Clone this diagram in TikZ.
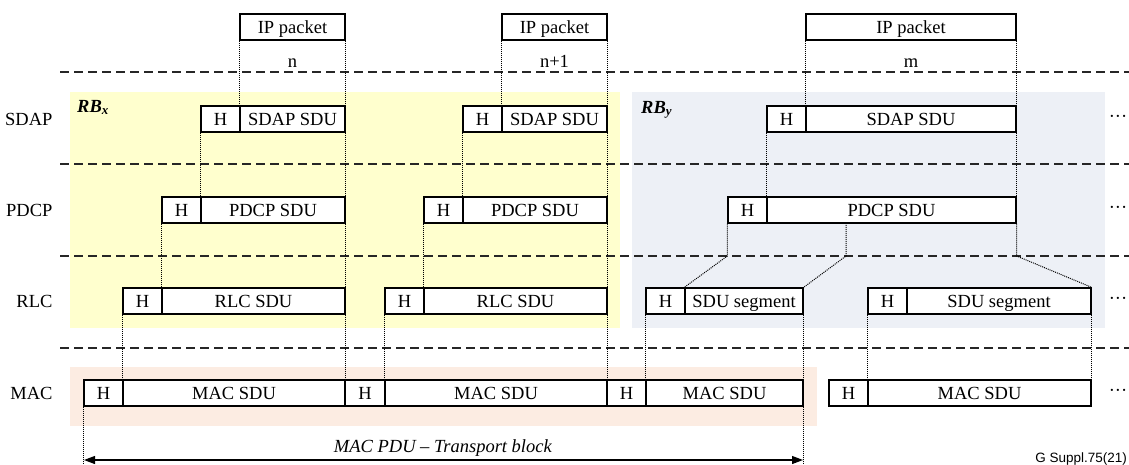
\documentclass[tikz,border=0pt]{standalone}
\usepackage{fontspec}
\setmainfont{Liberation Serif}
\newfontfamily\figsans{Liberation Sans}
\usetikzlibrary{arrows.meta}
\definecolor{rbxfill}{RGB}{255,255,206}
\definecolor{rbyfill}{RGB}{237,240,246}
\definecolor{macfill}{RGB}{252,236,226}
\begin{document}
\begin{tikzpicture}[x=1pt,y=-1pt,
  every node/.style={font=\fontsize{18.5}{21}\selectfont},
  cell/.style={draw, fill=white, line width=1.3pt, minimum height=26pt,
    inner sep=0pt, text height=12.5pt, text depth=0pt},
  link/.style={line width=1pt, dash pattern=on 1pt off 1pt},
  layersep/.style={line width=1.2pt, dash pattern=on 9pt off 5pt, black!85},
  layername/.style={anchor=east},
  more/.style={anchor=center},
  span/.style={line width=1.2pt, {Triangle[length=11pt,width=8pt]}-{Triangle[length=11pt,width=8pt]}}]
\useasboundingbox (0,0) rectangle (1129,464);

% radio bearer and MAC backgrounds
\fill[rbxfill] (70,92) rectangle (620,328);
\fill[rbyfill] (632,92) rectangle (1105,328);
\fill[macfill] (70,367) rectangle (817,426);

% layer separators
\coordinate (sepA) at (60,72);
\coordinate (sepB) at (60,164);
\coordinate (sepC) at (60,256);
\coordinate (sepD) at (60,348);
\foreach \s in {sepA,sepB,sepC,sepD}
  \draw[layersep] (\s) -- ++(1069,0);

% layer names
\node[layername] (lSDAP) at (56,119) {SDAP};
\node[layername] (lPDCP) at (56,210) {PDCP};
\node[layername] (lRLC)  at (56,301) {RLC};
\node[layername] (lMAC)  at (56,393) {MAC};

% bearer labels
\node[anchor=base west, inner sep=0pt] (rbx) at (77,112) {\textbf{\textit{RB\textsubscript{x}}}};
\node[anchor=base west, inner sep=0pt] (rby) at (641,113) {\textbf{\textit{RB\textsubscript{y}}}};

% IP packets
\node[cell, minimum width=105pt] (ipA) at (292.5,27) {IP packet};
\node[cell, minimum width=105pt] (ipB) at (554.5,27) {IP packet};
\node[cell, minimum width=210pt] (ipC) at (911,27) {IP packet};
\node[anchor=base, inner sep=0pt] (nA) at (292.5,67) {n};
\node[anchor=base, inner sep=0pt] (nB) at (554.5,67) {n+1};
\node[anchor=base, inner sep=0pt] (nC) at (911,67) {m};

% SDAP
\node[cell, minimum width=39pt]  (sdapHA) at (220.5,119) {H};
\node[cell, minimum width=105pt] (sdapA)  at (292.5,119) {SDAP SDU};
\node[cell, minimum width=39pt]  (sdapHB) at (482.5,119) {H};
\node[cell, minimum width=105pt] (sdapB)  at (554.5,119) {SDAP SDU};
\node[cell, minimum width=39pt]  (sdapHC) at (786.5,119) {H};
\node[cell, minimum width=210pt] (sdapC)  at (911,119) {SDAP SDU};

% PDCP
\node[cell, minimum width=39pt]  (pdcpHA) at (181.5,210) {H};
\node[cell, minimum width=144pt] (pdcpA)  at (273,210) {PDCP SDU};
\node[cell, minimum width=39pt]  (pdcpHB) at (443.5,210) {H};
\node[cell, minimum width=144pt] (pdcpB)  at (535,210) {PDCP SDU};
\node[cell, minimum width=39pt]  (pdcpHC) at (747.5,210) {H};
\node[cell, minimum width=249pt] (pdcpC)  at (891.5,210) {PDCP SDU};

% RLC
\node[cell, minimum width=39pt]  (rlcHA) at (142.5,301) {H};
\node[cell, minimum width=183pt] (rlcA)  at (253.5,301) {RLC SDU};
\node[cell, minimum width=39pt]  (rlcHB) at (404.5,301) {H};
\node[cell, minimum width=183pt] (rlcB)  at (515.5,301) {RLC SDU};
\node[cell, minimum width=39pt]  (segHA) at (665.5,301) {H};
\node[cell, minimum width=118pt] (segA)  at (744,301) {SDU segment};
\node[cell, minimum width=39pt]  (segHB) at (887.5,301) {H};
\node[cell, minimum width=184pt] (segB)  at (999,301) {SDU segment};

% MAC
\node[cell, minimum width=39pt]  (macHA) at (103.5,393) {H};
\node[cell, minimum width=222pt] (macA)  at (234,393) {MAC SDU};
\node[cell, minimum width=40pt]  (macHB) at (365,393) {H};
\node[cell, minimum width=222pt] (macB)  at (496,393) {MAC SDU};
\node[cell, minimum width=39pt]  (macHC) at (626.5,393) {H};
\node[cell, minimum width=157pt] (macC)  at (724.5,393) {MAC SDU};
\node[cell, minimum width=39pt]  (macHD) at (848.5,393) {H};
\node[cell, minimum width=223pt] (macD)  at (979.5,393) {MAC SDU};

% continuation marks
\foreach \y/\n in {119/a,210/b,301/c,393/d}
  \node[more] (more\n) at (1118,\y) {\textperiodcentered\textperiodcentered\textperiodcentered};

% IP packet -> SDAP SDU
\draw[link] (ipA.south west) -- (sdapA.north west);
\draw[link] (ipA.south east) -- (sdapA.north east);
\draw[link] (ipB.south west) -- (sdapB.north west);
\draw[link] (ipB.south east) -- (sdapB.north east);
\draw[link] (ipC.south west) -- (sdapC.north west);
\draw[link] (ipC.south east) -- (sdapC.north east);

% SDAP PDU -> PDCP SDU
\draw[link] (sdapHA.south west) -- (pdcpA.north west);
\draw[link] (sdapA.south east) -- (pdcpA.north east);
\draw[link] (sdapHB.south west) -- (pdcpB.north west);
\draw[link] (sdapB.south east) -- (pdcpB.north east);
\draw[link] (sdapHC.south west) -- (pdcpC.north west);
\draw[link] (sdapC.south east) -- (pdcpC.north east);

% PDCP PDU -> RLC SDU / segments
\draw[link] (pdcpHA.south west) -- (rlcA.north west);
\draw[link] (pdcpA.south east) -- (rlcA.north east);
\draw[link] (pdcpHB.south west) -- (rlcB.north west);
\draw[link] (pdcpB.south east) -- (rlcB.north east);
\coordinate (cut) at (846,223);
\draw[link] (pdcpHC.south west) -- (pdcpHC.south west |- sepC) -- (segA.north west);
\draw[link] (cut) -- (cut |- sepC) -- (segA.north east);
\draw[link] (pdcpC.south east) -- (pdcpC.south east |- sepC) -- (segB.north east);

% RLC PDU -> MAC SDU
\draw[link] (rlcHA.south west) -- (macA.north west);
\draw[link] (rlcA.south east) -- (macA.north east);
\draw[link] (rlcHB.south west) -- (macB.north west);
\draw[link] (rlcB.south east) -- (macB.north east);
\draw[link] (segHA.south west) -- (macC.north west);
\draw[link] (segA.south east) -- (macC.north east);
\draw[link] (segHB.south west) -- (macD.north west);
\draw[link] (segB.south east) -- (macD.north east);

% transport block extent
\coordinate (pduL) at (84,460);
\coordinate (pduR) at (803,460);
\coordinate (edge) at (0,464);
\draw[link] (macHA.south west) -- (macHA.south west |- edge);
\draw[link] (macC.south east) -- (macC.south east |- edge);
\draw[span] (pduL) -- (pduR);
\node[anchor=base] (pdu) at (443,452) {\textit{MAC PDU – Transport block}};

\node[anchor=base east, inner sep=0pt, font=\figsans\fontsize{13.5}{15}\selectfont] (ref) at (1127,462) {G Suppl.75(21)};
\end{tikzpicture}
\end{document}
